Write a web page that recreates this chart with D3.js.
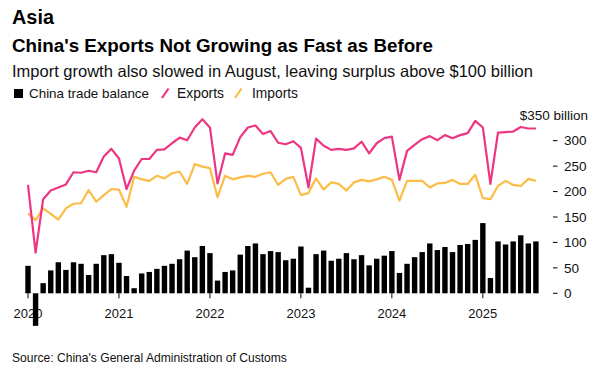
<!DOCTYPE html>
<html><head><meta charset="utf-8">
<script src="https://cdn.jsdelivr.net/npm/d3@7"></script>
<style>
html,body{margin:0;padding:0;background:#fff;}
svg text{font-family:"Liberation Sans",Arial,Helvetica,sans-serif;}
</style></head>
<body><svg id="c" width="605" height="388"></svg>
<script>
// Monthly data, Jan 2020 - Aug 2025, $ billion
const startYear = 2020;
const tradeBalance = [54,-64,20,45,61,46,61,58,36,58,75,77,
  60,34,10,39,42,48,54,58,67,84,71,93,
  79,25,42,45,76,93,98,77,83,81,65,68,
  92,11,77,84,64,68,79,67,75,55,68,74,
  83,40,58,71,81,98,85,91,81,95,97,105,
  138,30,102,96,102,114,98,102];
const exportsV = [213,80,185,202,208,214,238,237,241,238,269,284,
  265,205,241,264,264,282,283,295,306,301,326,342,
  326,216,275,272,307,326,330,313,319,296,293,299,
  286,208,304,290,282,284,282,285,298,275,295,305,
  308,223,280,292,303,309,301,311,305,311,315,339,
  326,215,316,317,318,327,324,324];
const importsV = [157,144,167,156,145,167,176,177,203,180,193,205,
  204,170,229,224,221,231,226,236,239,215,254,249,
  246,189,231,224,228,231,229,235,238,213,225,229,
  193,197,226,204,218,215,202,218,223,220,224,229,
  223,182,221,221,221,208,216,217,223,215,215,233,
  187,185,211,221,213,211,225,221];
const yTicks = [0,50,100,150,200,250,300];
const yearLabels = ["2020","2021","2022","2023","2024","2025"];

const colors = {balance:"#000000", exports:"#ee3583", imports:"#fbbd47"};

const svg = d3.select("#c");
const n = exportsV.length;
const x = d3.scaleLinear().domain([0, n-1]).range([28, 535.9]);
const y = d3.scaleLinear().domain([0, 300]).range([293.3, 140.7]);

function fitText(sel, target){
  const w = sel.node().getComputedTextLength();
  const fs = parseFloat(sel.attr("font-size"));
  sel.attr("font-size", (fs*target/w).toFixed(2));
}

// Titles
fitText(svg.append("text").attr("x",12).attr("y",24).attr("font-size",20).attr("font-weight","bold").attr("fill","#000").text("Asia"), 42);
fitText(svg.append("text").attr("x",12).attr("y",51.5).attr("font-size",19).attr("font-weight","bold").attr("fill","#000").text("China's Exports Not Growing as Fast as Before"), 421);
fitText(svg.append("text").attr("x",12).attr("y",77).attr("font-size",15.5).attr("fill","#111").text("Import growth also slowed in August, leaving surplus above $100 billion"), 521);

// Legend
const lg = svg.append("g");
lg.append("rect").attr("x",14).attr("y",89).attr("width",9).attr("height",9).attr("fill",colors.balance);
fitText(lg.append("text").attr("x",29).attr("y",98).attr("font-size",13).attr("fill","#111").text("China trade balance"), 120);
lg.append("line").attr("x1",162).attr("y1",98).attr("x2",168.5).attr("y2",88.5).attr("stroke",colors.exports).attr("stroke-width",2.2);
fitText(lg.append("text").attr("x",177).attr("y",98).attr("font-size",13).attr("fill","#111").text("Exports"), 47);
lg.append("line").attr("x1",235).attr("y1",98).attr("x2",241.5).attr("y2",88.5).attr("stroke",colors.imports).attr("stroke-width",2.2);
fitText(lg.append("text").attr("x",252).attr("y",98).attr("font-size",13).attr("fill","#111").text("Imports"), 46);

// Right y axis
const ya = svg.append("g");
yTicks.forEach(v=>{
  ya.append("line").attr("x1",553).attr("x2",557.5).attr("y1",y(v)).attr("y2",y(v)).attr("stroke","#000").attr("stroke-width",1);
  ya.append("text").attr("x",564).attr("y",y(v)).attr("dy","0.35em").attr("font-size",13.5).attr("fill","#111").text(v);
});
ya.append("text").attr("x",588).attr("y",y(350)).attr("dy","0.35em").attr("text-anchor","end").attr("font-size",13.5).attr("fill","#111").text("$350 billion");

// X axis
const xa = svg.append("g");
yearLabels.forEach((lab,k)=>{
  const xi = x(k*12);
  xa.append("line").attr("x1",xi).attr("x2",xi).attr("y1",y(0)).attr("y2",y(0)+5).attr("stroke","#000").attr("stroke-width",1);
  xa.append("text").attr("x",xi).attr("y",317.5).attr("text-anchor","middle").attr("font-size",13).attr("fill","#111").text(lab);
});

// Bars
const bw = 5.4;
svg.append("g").selectAll("rect").data(tradeBalance).join("rect")
  .attr("x",(d,i)=>x(i)-bw/2).attr("width",bw)
  .attr("y",d=>Math.min(y(d),y(0))).attr("height",d=>Math.abs(y(d)-y(0)))
  .attr("fill",colors.balance);

// Lines
const line = d3.line().x((d,i)=>x(i)).y(d=>y(d)).curve(d3.curveLinear);
svg.append("path").datum(importsV).attr("d",line).attr("fill","none").attr("stroke",colors.imports).attr("stroke-width",2.2).attr("stroke-linejoin","round");
svg.append("path").datum(exportsV).attr("d",line).attr("fill","none").attr("stroke",colors.exports).attr("stroke-width",2.2).attr("stroke-linejoin","round");

// Source
fitText(svg.append("text").attr("x",12).attr("y",362).attr("font-size",12).attr("fill","#111").text("Source: China's General Administration of Customs"), 275);
</script></body></html>
